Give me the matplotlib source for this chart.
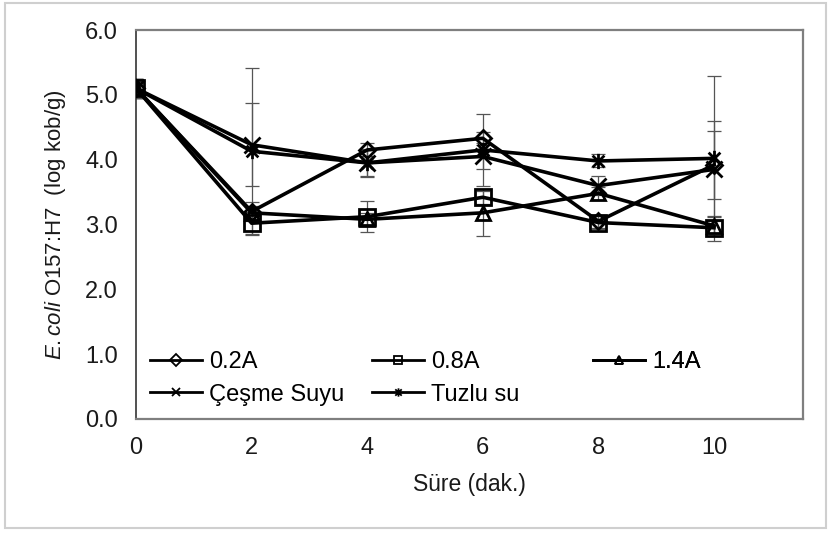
import matplotlib
matplotlib.use("Agg")
import matplotlib.pyplot as plt
from matplotlib.lines import Line2D
from matplotlib.path import Path
from matplotlib.patches import Rectangle

plt.rcParams['font.family'] = ['Liberation Sans', 'DejaVu Sans']
plt.rcParams['mathtext.fontset'] = 'custom'
plt.rcParams['mathtext.it'] = 'Liberation Sans:italic'
plt.rcParams['mathtext.rm'] = 'Liberation Sans'

# Süre (dak.)
sure = [0, 2, 4, 6, 8, 10]

# log kob/g
a02 = [5.10, 3.20, 4.15, 4.33, 3.05, 3.92]
a08 = [5.10, 3.02, 3.12, 3.42, 3.03, 2.95]
a14 = [5.10, 3.18, 3.08, 3.18, 3.48, 2.98]
cesme = [5.10, 4.23, 3.95, 4.05, 3.60, 3.85]
tuzlu = [5.10, 4.13, 3.95, 4.15, 3.98, 4.02]

# standart sapma
a02_err = [0.15, 0.15, 0.10, 0.10, 0.10, 0.52]
a08_err = [0.15, 0.18, 0.24, 0.10, 0.10, 0.10]
a14_err = [0.15, 0.10, 0.10, 0.36, 0.10, 0.15]
cesme_err = [0.15, 0.64, 0.20, 0.20, 0.15, 0.74]
tuzlu_err = [0.15, 1.28, 0.21, 0.55, 0.10, 1.27]

etiketler = ['0.2A', '0.8A', '1.4A', 'Çeşme Suyu', 'Tuzlu su']

# Excel tarzi yildiz isaretci (x + dikey cizgi)
yildiz = Path([(-1, -1), (1, 1), (-1, 1), (1, -1), (0, -1.3), (0, 1.3)],
              [Path.MOVETO, Path.LINETO, Path.MOVETO, Path.LINETO, Path.MOVETO, Path.LINETO])
isaretler = ['D', 's', '^', 'x', yildiz]
boyutlar = [8, 11, 10, 11, 11]

seriler = [a02, a08, a14, cesme, tuzlu]
hatalar = [a02_err, a08_err, a14_err, cesme_err, tuzlu_err]

fig = plt.figure(figsize=(8.31, 5.33), dpi=100)
ax = fig.add_axes([0.1637, 0.2139, 0.8026, 0.7298])

for y, e in zip(seriler, hatalar):
    ax.errorbar(sure, y, yerr=e, fmt='none', ecolor='#555555',
                elinewidth=0.9, capsize=5, capthick=0.9, zorder=2)

for y, m, s in zip(seriler, isaretler, boyutlar):
    ax.plot(sure, y, color='black', lw=2.6, marker=m, ms=s,
            mfc='none', mec='black', mew=2.0, zorder=3)

ax.set_xlim(0, 11.54)
ax.set_ylim(0, 6)
ax.set_xticks(sure)
ax.set_yticks([0, 1, 2, 3, 4, 5, 6])
ax.set_yticklabels([f'{v:.1f}' for v in range(7)])
ax.tick_params(axis='y', length=0, pad=13, labelsize=17, labelcolor='#1a1a1a')
ax.tick_params(axis='x', length=0, pad=13, labelsize=17, labelcolor='#1a1a1a')

ax.spines['left'].set_color('#333333')
ax.spines['left'].set_linewidth(1.2)
for k in ['top', 'right', 'bottom']:
    ax.spines[k].set_color('#7f7f7f')
    ax.spines[k].set_linewidth(1.6)

ax.set_xlabel('Süre (dak.)', fontsize=16.5, color='#1a1a1a', labelpad=10)
ax.set_ylabel(r'$\mathit{E.coli}$ O157:H7  (log kob/g)', fontsize=16,
              color='#1a1a1a', labelpad=12)

# lejant: esit genislikte uc sutun
tutucular = [Line2D([], [], color='black', lw=2, marker=m, ms=6, mfc='none',
                    mec='black', mew=1.3) for m in isaretler]
sutunlar = [[0, 3], [1, 4], [2]]
sutun_x = [0.021, 0.354, 0.685]
for idx, sx in zip(sutunlar, sutun_x):
    leg = ax.legend([tutucular[i] for i in idx], [etiketler[i] for i in idx],
                    frameon=False, fontsize=17, loc='upper left',
                    bbox_to_anchor=(sx, 0.175), borderpad=0, borderaxespad=0,
                    handlelength=2.2, handletextpad=0.3, labelspacing=0.45)
    ax.add_artist(leg)

fig.patches.append(Rectangle((0.006, 0.009), 0.988, 0.985, transform=fig.transFigure,
                             fill=False, ec='#cfcfcf', lw=1.5))

fig.savefig('out.png', dpi=100)
